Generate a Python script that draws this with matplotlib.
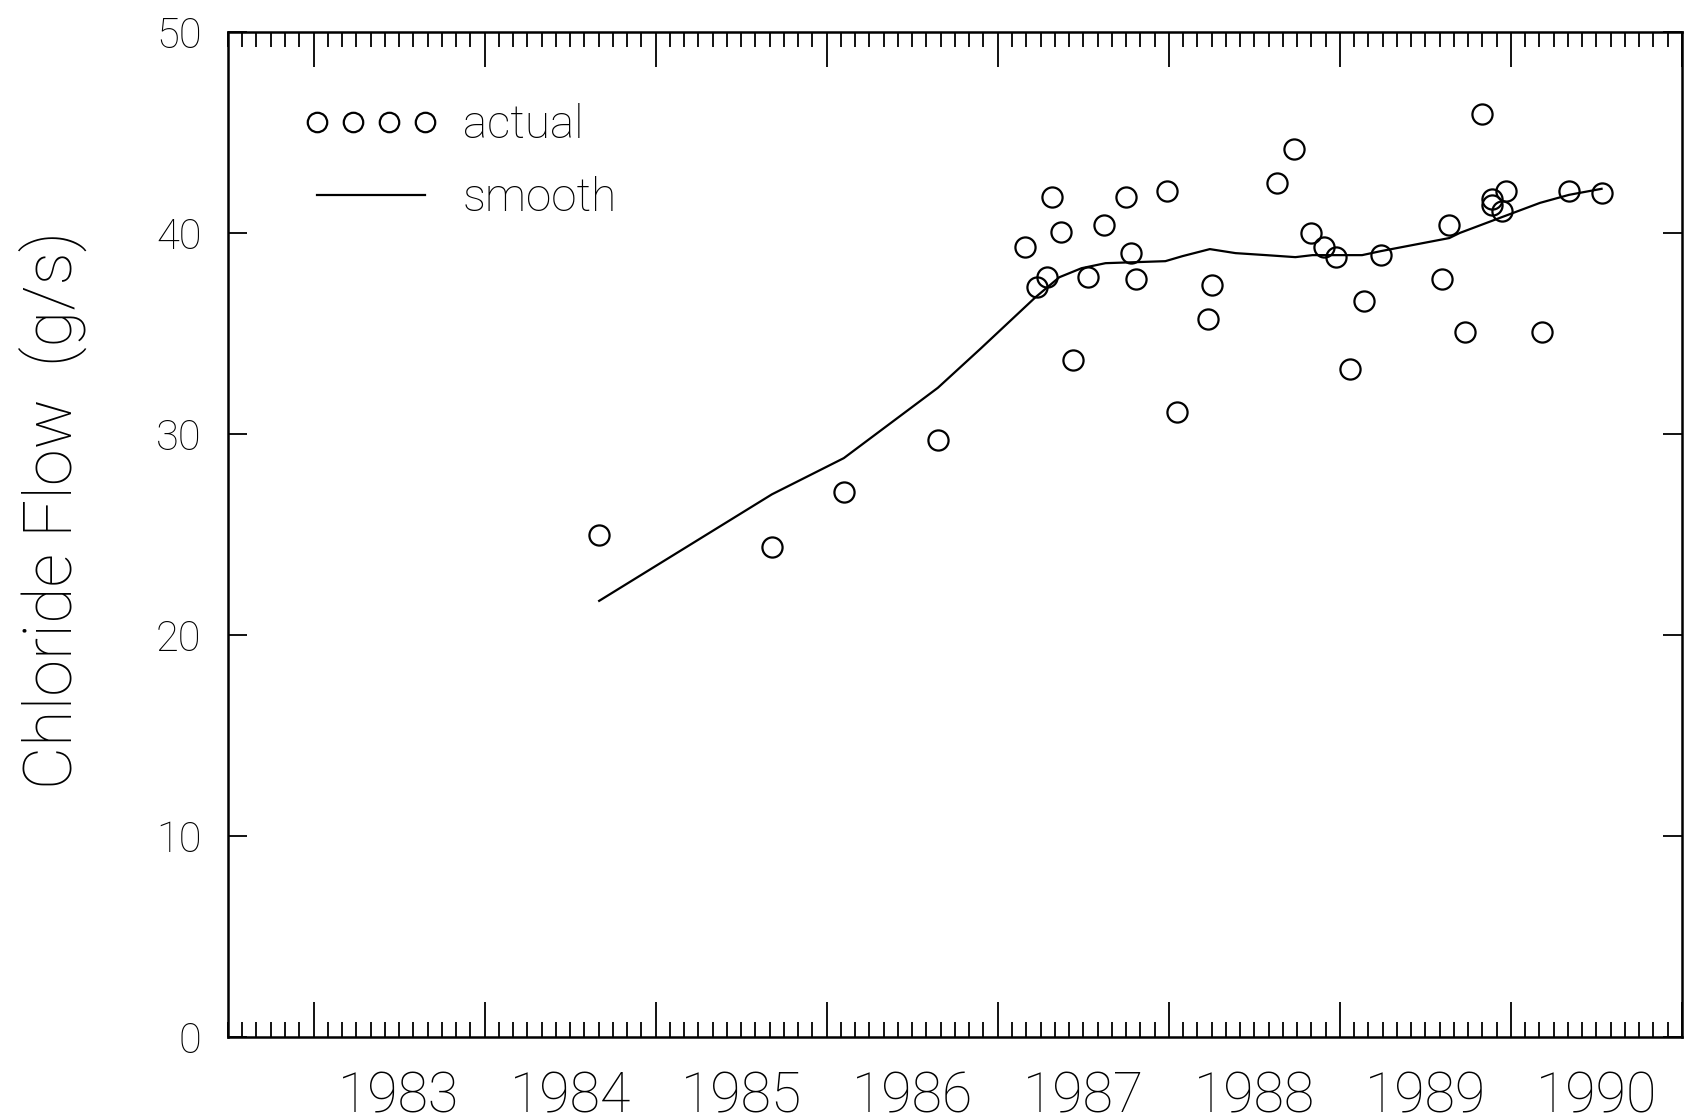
import numpy as np
import matplotlib
matplotlib.use("Agg")
import matplotlib.pyplot as plt
from matplotlib.ticker import MultipleLocator, NullFormatter
from matplotlib.lines import Line2D

# measured chloride flow (decimal year, g/s)
actual_t = [1984.67, 1985.68, 1986.10, 1986.65, 1987.16, 1987.23, 1987.29, 1987.32,
            1987.37, 1987.44, 1987.53, 1987.62, 1987.75, 1987.78, 1987.81, 1987.99,
            1988.05, 1988.23, 1988.25, 1988.63, 1988.73, 1988.83, 1988.91, 1988.98,
            1989.06, 1989.14, 1989.24, 1989.60, 1989.64, 1989.73, 1989.83, 1989.89,
            1989.89, 1989.97, 1989.95, 1990.18, 1990.34, 1990.53]
actual_flow = [25.0, 24.4, 27.1, 29.7, 39.3, 37.3, 37.8, 41.8,
               40.05, 33.7, 37.8, 40.4, 41.8, 39.0, 37.7, 42.1,
               31.1, 35.7, 37.4, 42.5, 44.2, 40.0, 39.3, 38.8,
               33.25, 36.6, 38.9, 37.7, 40.4, 35.1, 45.9, 41.7,
               41.4, 42.1, 41.1, 35.1, 42.1, 42.0]

# smoothed curve
smooth_t = [1984.67, 1985.68, 1986.10, 1986.65, 1986.90, 1987.22, 1987.36, 1987.49,
            1987.63, 1987.98, 1988.08, 1988.24, 1988.39, 1988.57, 1988.74, 1988.84,
            1988.98, 1989.13, 1989.24, 1989.64, 1989.70, 1989.95, 1990.17, 1990.34,
            1990.53]
smooth_flow = [21.7, 27.0, 28.8, 32.3, 34.25, 36.8, 37.8, 38.25,
               38.5, 38.6, 38.85, 39.2, 39.0, 38.9, 38.8, 38.9,
               38.9, 38.9, 39.1, 39.75, 40.0, 40.8, 41.5, 41.9,
               42.2]

years = [1983, 1984, 1985, 1986, 1987, 1988, 1989, 1990]
year_labels = [str(y) for y in years]

plt.rcParams['font.family'] = ['Roboto', 'DejaVu Sans']
plt.rcParams['font.weight'] = 'light'
plt.rcParams['axes.labelweight'] = 'light'

fig = plt.figure(figsize=(16.85, 11.2), dpi=100)
ax = fig.add_axes([0.1353, 0.0741, 0.8629, 0.8973])

ax.plot(actual_t, actual_flow, linestyle='none', marker='o', markersize=14.5,
        markerfacecolor='none', markeredgecolor='black', markeredgewidth=1.6)
ax.plot(smooth_t, smooth_flow, color='black', linewidth=1.6)

ax.set_xlim(1982.5, 1991.0)
ax.set_ylim(0, 50)

for s in ax.spines.values():
    s.set_linewidth(1.8)

# x: yearly major ticks, monthly minor ticks, labels centred on each year
ax.xaxis.set_major_locator(MultipleLocator(1))
ax.xaxis.set_minor_locator(MultipleLocator(1 / 12))
ax.xaxis.set_major_formatter(NullFormatter())
ax.tick_params(axis='x', which='major', direction='in', length=25, width=1.3,
               top=True, bottom=True)
ax.tick_params(axis='x', which='minor', direction='in', length=11, width=1.3,
               top=True, bottom=True)

sec = ax.secondary_xaxis('bottom')
sec.set_xticks([y + 0.5 for y in years], year_labels)
sec.tick_params(length=0, pad=24, labelsize=40)
sec.spines['bottom'].set_visible(False)

# y
ax.set_yticks([0, 10, 20, 30, 40, 50])
ax.tick_params(axis='y', direction='in', length=14, width=1.3, left=True,
               right=True, labelsize=30, pad=19)
ax.set_ylabel('Chloride Flow  (g/s)', fontsize=48)
ax.yaxis.set_label_coords(-0.097, 0.524)

handles = [Line2D([], [], linestyle='none', marker='o', markersize=14,
                  markerfacecolor='none', markeredgecolor='black', markeredgewidth=1.6),
           Line2D([], [], color='black', linewidth=1.6)]
ax.legend(handles, ['actual', 'smooth'], loc='upper left',
          bbox_to_anchor=(0.052, 0.929), frameon=False, numpoints=4,
          fontsize=33, handlelength=2.95, handletextpad=0.52, labelspacing=0.62,
          borderaxespad=0, borderpad=0)

plt.savefig('out.png', dpi=100)
